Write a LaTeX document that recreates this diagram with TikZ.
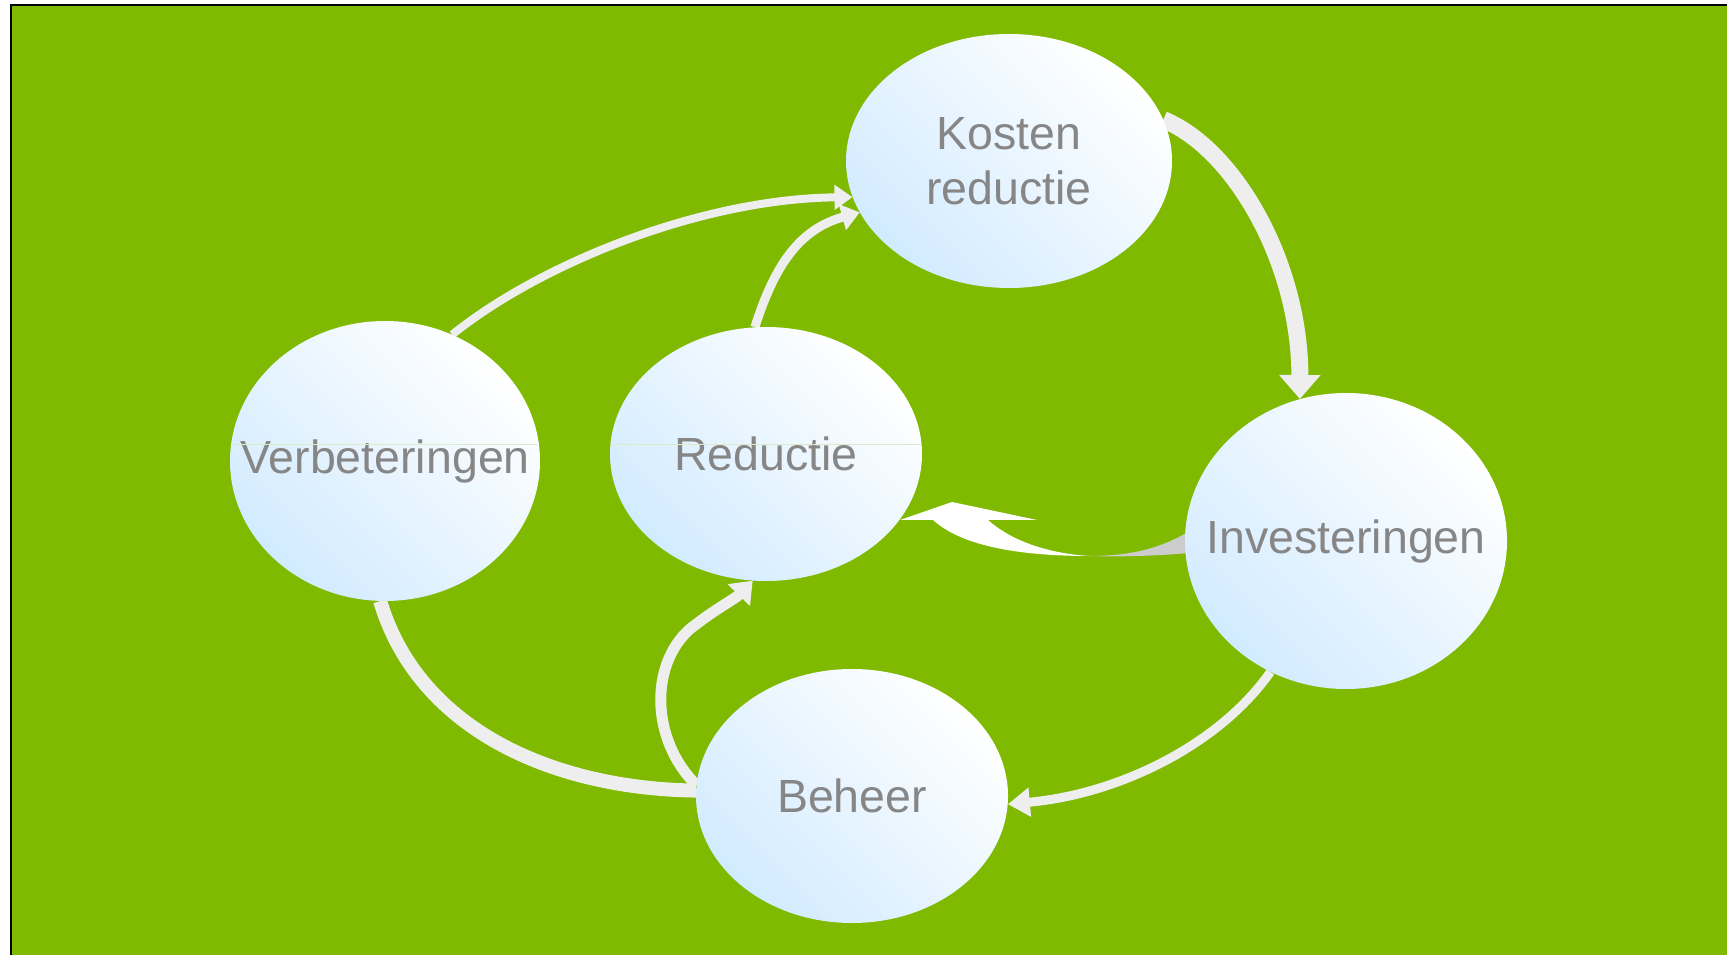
\documentclass[tikz,border=0pt]{standalone}
\usepackage{fontspec}
\setmainfont{Liberation Sans}
\usetikzlibrary{shapes.geometric,arrows.meta}
\definecolor{bggreen}{RGB}{127,185,0}
\definecolor{lb}{RGB}{210,235,255}
\definecolor{txtgray}{RGB}{134,134,134}
\definecolor{arrw}{RGB}{238,238,238}
\definecolor{shadowgray}{RGB}{204,204,204}
\definecolor{faint}{RGB}{218,236,200}
\pgfdeclarelayer{bg}
\pgfdeclarelayer{arr}
\pgfdeclarelayer{top}
\pgfsetlayers{bg,arr,main,top}
\newcommand{\zb}[1]{\makebox[0pt][c]{#1}}
\tikzset{
  bubble/.style={ellipse, inner sep=0pt, top color=white, bottom color=lb,
    shading angle=-45, text=txtgray, font=\fontsize{46.5}{55}\selectfont, align=center},
  flow/.style={draw=arrw, line cap=butt},
}
\begin{document}
\begin{tikzpicture}[x=1pt,y=1pt]
\useasboundingbox (0,0) rectangle (1727,954);
\begin{pgfonlayer}{bg}
  \fill[white] (0,0) rectangle (1727,954);
  \draw[fill=bggreen, draw=black, line width=2.2pt] (11,-10) rectangle (1740,949);
\end{pgfonlayer}

\node[bubble, minimum width=326pt, minimum height=254pt] (kost) at (1009,793) {\zb{Kosten}\\\zb{reductie}};
\node[bubble, minimum width=310pt, minimum height=280pt] (verb) at (385,493) {\zb{Verbeteringen}};
\node[bubble, minimum width=312pt, minimum height=254pt] (red) at (766,500) {\zb{Reductie}};
\node[bubble, minimum width=322pt, minimum height=296pt] (inv) at (1346,413) {\zb{Investeringen}};
\node[bubble, minimum width=312pt, minimum height=254pt] (beh) at (852,158) {\zb{Beheer}};

\begin{pgfonlayer}{arr}
  % Verbeteringen -> Kosten reductie
  \draw[flow, line width=8pt, -{Triangle[width=24pt,length=18pt]}]
    (verb.62) .. controls (540,690) and (700,755) .. (kost.193);
  % Reductie -> Kosten reductie
  \draw[flow, line width=9pt, -{Triangle[width=26pt,length=18pt]}]
    (red.95) .. controls (775,690) and (800,725) .. (kost.199);
  % Kosten reductie -> Investeringen
  \draw[flow, line width=17pt, -{Triangle[width=40pt,length=24pt]}]
    (kost.15) .. controls (1235,805) and (1300,690) .. (inv.108);
  % Investeringen -> Beheer
  \draw[flow, line width=9pt, -{Triangle[width=28pt,length=22pt]}]
    (inv.240) .. controls (1220,210) and (1120,160) .. (beh.357);
  % Verbeteringen -> Beheer
  \draw[flow, line width=14pt]
    (verb.268) .. controls (420,220) and (560,165) .. (beh.178);
  % Beheer -> Reductie
  \draw[flow, line width=11pt, -{Triangle[width=30pt,length=20pt]}]
    (beh.176) .. controls (650,215) and (650,290) .. (690,325)
    .. controls (715,345) and (735,355) .. (red.264);
  % Investeringen -> Reductie (broad curved arrow)
  \fill[shadowgray] (1088,398) .. controls (1130,398) and (1165,405) .. (1200,430)
    -- (1200,402) .. controls (1160,398) and (1120,397) .. (1088,398) -- cycle;
  \fill[white] (900,434) -- (952,452) -- (1037,434) -- (988,434)
    .. controls (1015,410) and (1055,400) .. (1090,398)
    .. controls (1030,398) and (965,405) .. (933,434) -- cycle;
\end{pgfonlayer}

\begin{pgfonlayer}{top}
  \draw[faint, line width=0.8pt] (232,510) -- (538,510);
  \draw[faint, line width=0.8pt] (612,510) -- (921,510);
\end{pgfonlayer}
\end{tikzpicture}
\end{document}
